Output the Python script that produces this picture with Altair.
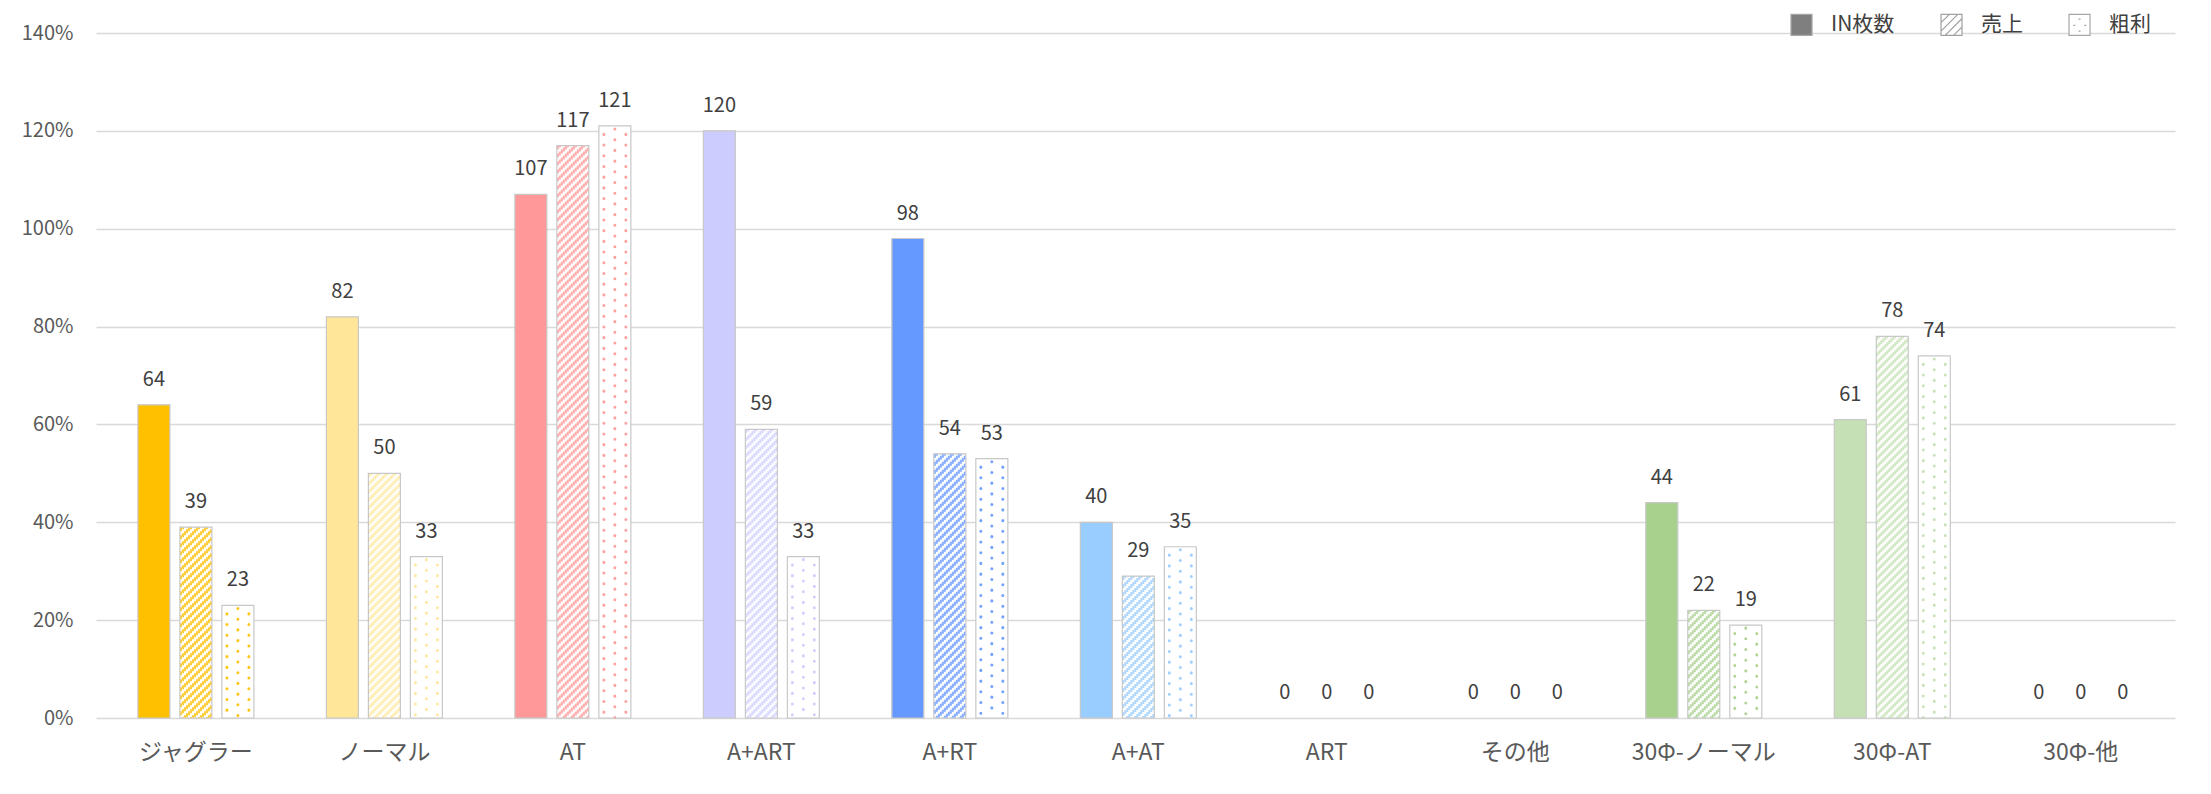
import altair as alt
import pandas as pd

categories = ["ジャグラー", "ノーマル", "AT", "A+ART", "A+RT", "A+AT", "ART", "その他",
              "30Φ-ノーマル", "30Φ-AT", "30Φ-他"]
series_names = ["IN枚数", "売上", "粗利"]
in_values = [64, 82, 107, 120, 98, 40, 0, 0, 44, 61, 0]
sales_values = [39, 50, 117, 59, 54, 29, 0, 0, 22, 78, 0]
profit_values = [23, 33, 121, 33, 53, 35, 0, 0, 19, 74, 0]
bar_colors = ["#FFC000", "#FFE699", "#FF9999", "#CCCCFF", "#6699FF", "#99CCFF",
              "#F4B183", "#D9D9D9", "#A9D18E", "#C5E0B4", "#E2F0D9"]
y_ticks = [0, 20, 40, 60, 80, 100, 120, 140]


def tint(hex_color, amount):
    h = hex_color.lstrip("#")
    rgb = [int(h[i:i + 2], 16) for i in (0, 2, 4)]
    rgb = [round(c * amount + 255 * (1 - amount)) for c in rgb]
    return "#{:02X}{:02X}{:02X}".format(*rgb)


rows = []
for i, cat in enumerate(categories):
    for s, vals in zip(series_names, [in_values, sales_values, profit_values]):
        rows.append({
            "category": cat,
            "series": s,
            "value": vals[i],
            "fill": bar_colors[i] if s == "IN枚数" else "#FFFFFF",
            "stripe": tint(bar_colors[i], 0.78),
            "dot": tint(bar_colors[i], 0.92),
        })
df = pd.DataFrame(rows)

FONT = "Noto Sans CJK JP"
BAR_W = 32
offsets = {"IN枚数": -42, "売上": 0, "粗利": 42}

x_enc = alt.X("category:N", sort=categories,
              scale=alt.Scale(paddingInner=0, paddingOuter=0.015, align=1),
              axis=alt.Axis(title=None, labelAngle=0, labelFontSize=23, labelFont=FONT,
                            labelColor="#595959", labelPadding=23, domain=False,
                            ticks=False, grid=False))
y_enc = alt.Y("value:Q", scale=alt.Scale(domain=[0, 140], nice=False),
              axis=alt.Axis(title=None, values=y_ticks, labelExpr="datum.value + '%'",
                            labelFontSize=20, labelFont=FONT, labelColor="#595959",
                            labelPadding=23, domain=False, ticks=False,
                            gridColor="#D9D9D9", gridWidth=1.3))

base = alt.Chart(df)

square_path = "M-1,-1H1V1H-1Z"
hatch_path = ("M-1,-1H1V1H-1Z M-1,-0.2L-0.2,-1 M-1,0.6L0.6,-1 "
              "M-0.6,1L1,-0.6 M0.2,1L1,0.2")
dots_path = ("M-1,-1H1V1H-1Z M-0.1,-0.55h0.2 M-0.6,0.05h0.2 M0.45,0.05h0.2 "
             "M-0.1,0.6h0.2")

legend = alt.Legend(title=None, orient="none", legendX=1694, legendY=-20,
                    direction="horizontal", symbolSize=441, symbolStrokeWidth=1.2,
                    symbolOpacity=1, labelFontSize=21, labelFont=FONT,
                    labelColor="#404040", labelOffset=18, columnPadding=43, padding=0)

layers = []

# legend carrier (invisible points)
layers.append(
    base.transform_filter((alt.datum.series == "IN枚数") & (alt.datum.value > 10))
    .mark_point(filled=True, opacity=0, size=30, xOffset=-42)
    .encode(
        x=x_enc, y=y_enc,
        fill=alt.Fill("series:N", scale=alt.Scale(domain=series_names,
                      range=["#7F7F7F", "#FFFFFF", "#FFFFFF"]), legend=legend),
        stroke=alt.Stroke("series:N", scale=alt.Scale(domain=series_names,
                          range=["#A6A6A6", "#A0A0A0", "#A6A6A6"]), legend=legend),
        shape=alt.Shape("series:N", scale=alt.Scale(domain=series_names,
                        range=[square_path, hatch_path, dots_path]), legend=legend),
    )
)

# base fills
for s in series_names:
    layers.append(
        base.transform_filter(alt.datum.series == s)
        .mark_bar(width=BAR_W, xOffset=offsets[s])
        .encode(x=x_enc, y=y_enc, color=alt.Color("fill:N", scale=None))
    )

# hatch for 売上
for k in range(16):
    layers.append(
        base.transform_filter(alt.datum.series == "売上")
        .mark_rule(xOffset=offsets["売上"] - 15 + 2 * k, strokeWidth=2.1,
                   strokeDash=[4, 4], strokeDashOffset=2 * k)
        .encode(x=x_enc, y=y_enc, y2=alt.datum(0),
                color=alt.Color("stripe:N", scale=None))
    )

# dots for 粗利
for rel, phase in [(-11, -8.35), (0, -3), (11, -8.35)]:
    layers.append(
        base.transform_filter(alt.datum.series == "粗利")
        .mark_rule(xOffset=offsets["粗利"] + rel, strokeWidth=3.0, strokeCap="round",
                   strokeDash=[0.1, 10.6], strokeDashOffset=phase)
        .encode(x=x_enc, y=y_enc, y2=alt.datum(0),
                color=alt.Color("dot:N", scale=None))
    )

# outlines
for s in series_names:
    layers.append(
        base.transform_filter((alt.datum.series == s) & (alt.datum.value > 0))
        .mark_bar(width=BAR_W, xOffset=offsets[s], fillOpacity=0,
                  stroke="#C8C8C8", strokeWidth=1.2)
        .encode(x=x_enc, y=y_enc)
    )

# value labels
for s in series_names:
    layers.append(
        base.transform_filter(alt.datum.series == s)
        .mark_text(xOffset=offsets[s], dy=-25, baseline="middle", fontSize=20,
                   font=FONT, color="#404040")
        .encode(x=x_enc, y=y_enc, text=alt.Text("value:Q"))
    )

chart = alt.layer(*layers).properties(
    width=2079, height=685,
    padding={"left": 88, "top": 25, "right": 24, "bottom": 60},
    autosize=alt.AutoSizeParams(type="none"),
    background="#FFFFFF",
).configure_view(stroke=None)

chart.save("out.html", embed_options={"renderer": "svg", "actions": False})
